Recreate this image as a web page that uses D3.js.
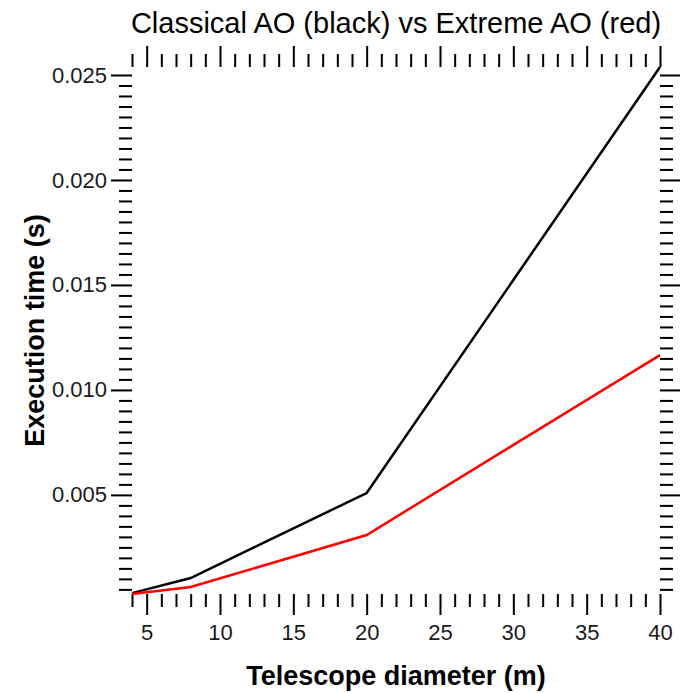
<!DOCTYPE html>
<html>
<head>
<meta charset="utf-8">
<script src="https://cdn.jsdelivr.net/npm/d3@7"></script>
<style>
  body { margin: 0; background: #fff; }
  svg { display: block; }
</style>
</head>
<body>
<div id="main"></div>
<script>
// telescope diameters (m)
var diameters = [4, 8, 20, 40];
// execution time (s)
var classicalAO = [0.00032, 0.00104, 0.00509, 0.02538];
var extremeAO = [0.00028, 0.00061, 0.00309, 0.01166];

var xMajorTicks = [5, 10, 15, 20, 25, 30, 35, 40];
var yMajorTicks = [0.005, 0.010, 0.015, 0.020, 0.025];

var ctx = {
    w: 680,
    h: 693,
    left: 132,
    right: 660,
    top: 67,
    bottom: 594,
    MINOR: 13,
    MAJOR: 21,
    FONT: "'Liberation Sans', Arial, Helvetica, sans-serif"
};

var createViz = function(){
    var svg = d3.select("#main").append("svg")
        .attr("width", ctx.w)
        .attr("height", ctx.h);

    var allY = classicalAO.concat(extremeAO);
    var xScale = d3.scaleLinear()
        .domain([d3.min(diameters), d3.max(diameters)])
        .range([ctx.left, ctx.right]);
    var yScale = d3.scaleLinear()
        .domain([d3.min(allY), d3.max(allY)])
        .range([ctx.bottom, ctx.top]);

    // minor tick positions: every 1 m and every 0.0005 s
    var xMinor = d3.range(4, 41, 1).filter(function(v){ return xMajorTicks.indexOf(v) < 0; });
    var yMinor = d3.range(1, 51).map(function(k){ return k * 0.0005; })
        .filter(function(v){ return v >= yScale.domain()[0] && v <= yScale.domain()[1]; })
        .filter(function(v){ return !yMajorTicks.some(function(m){ return Math.abs(m - v) < 1e-9; }); });

    var axes = svg.append("g").attr("id", "axes");

    var addAxis = function(axisFn, scale, transform, values, size, labels, pad){
        var g = axes.append("g")
            .attr("transform", transform)
            .call(axisFn(scale).tickValues(values).tickSize(size).tickPadding(pad)
                .tickFormat(labels ? labels : ""));
        g.select(".domain").remove();
        g.selectAll("line").style("stroke", "#000").style("stroke-width", 2);
        g.selectAll("text")
            .style("font-family", ctx.FONT)
            .style("font-size", "22px")
            .style("fill", "#1a1a1a");
        return g;
    };

    // bottom
    addAxis(d3.axisBottom, xScale, "translate(0," + ctx.bottom + ")", xMinor, ctx.MINOR, null, 9);
    addAxis(d3.axisBottom, xScale, "translate(0," + ctx.bottom + ")", xMajorTicks, ctx.MAJOR, d3.format("d"), 9);
    // top
    addAxis(d3.axisTop, xScale, "translate(0," + ctx.top + ")", xMinor, ctx.MINOR, null, 3);
    addAxis(d3.axisTop, xScale, "translate(0," + ctx.top + ")", xMajorTicks, ctx.MAJOR, null, 3);
    // left
    addAxis(d3.axisLeft, yScale, "translate(" + ctx.left + ",0)", yMinor, ctx.MINOR, null, 4);
    addAxis(d3.axisLeft, yScale, "translate(" + ctx.left + ",0)", yMajorTicks, ctx.MAJOR, d3.format(".3f"), 4);
    // right
    addAxis(d3.axisRight, yScale, "translate(" + ctx.right + ",0)", yMinor, ctx.MINOR, null, 3);
    addAxis(d3.axisRight, yScale, "translate(" + ctx.right + ",0)", yMajorTicks, ctx.MAJOR, null, 3);

    // data lines
    var line = d3.line()
        .x(function(d){ return xScale(d[0]); })
        .y(function(d){ return yScale(d[1]); });
    svg.append("path")
        .datum(d3.zip(diameters, classicalAO))
        .attr("d", line)
        .style("fill", "none")
        .style("stroke", "#000")
        .style("stroke-width", 2.5);
    svg.append("path")
        .datum(d3.zip(diameters, extremeAO))
        .attr("d", line)
        .style("fill", "none")
        .style("stroke", "#ff0000")
        .style("stroke-width", 2.5);

    // title
    svg.append("text")
        .attr("x", (ctx.left + ctx.right) / 2)
        .attr("y", 33)
        .style("text-anchor", "middle")
        .style("font-family", ctx.FONT)
        .style("font-size", "29px")
        .style("fill", "#000")
        .text("Classical AO (black) vs Extreme AO (red)");

    // x-axis label
    svg.append("text")
        .attr("x", (ctx.left + ctx.right) / 2)
        .attr("y", 685)
        .style("text-anchor", "middle")
        .style("font-family", ctx.FONT)
        .style("font-size", "27px")
        .style("font-weight", "bold")
        .style("fill", "#000")
        .text("Telescope diameter (m)");

    // y-axis label
    svg.append("text")
        .attr("transform", "translate(44," + ((ctx.top + ctx.bottom) / 2) + ") rotate(-90)")
        .style("text-anchor", "middle")
        .style("font-family", ctx.FONT)
        .style("font-size", "27px")
        .style("font-weight", "bold")
        .style("fill", "#000")
        .text("Execution time (s)");
};

createViz();
</script>
</body>
</html>
